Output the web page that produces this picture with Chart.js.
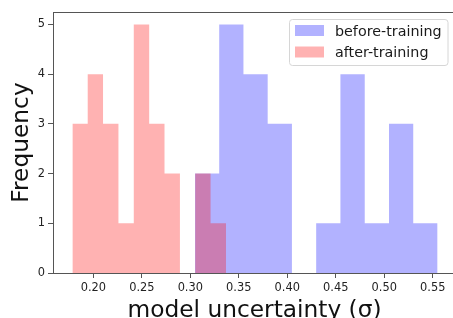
<!DOCTYPE html>
<html><head><meta charset="utf-8">
<script src="https://cdn.jsdelivr.net/npm/chart.js@4.4.0/dist/chart.umd.min.js"></script>
<style>
html,body{margin:0;padding:0;overflow:hidden;background:#fff;width:453px;height:318px}
#wrap{position:absolute;left:0;top:0;width:456px;height:330px}
</style></head><body>
<div id="wrap"><canvas id="c" width="456" height="330"></canvas></div>
<script>
// ---- data ----
const seriesNames = ['before-training', 'after-training'];
const beforeEdges = [0.3048, 0.3298, 0.3548, 0.3798, 0.4048, 0.4298, 0.4548, 0.4799, 0.5049, 0.5299, 0.5550];
const beforeCounts = [2, 5, 4, 3, 0, 1, 4, 1, 3, 1];
const afterEdges = [0.1784, 0.1942, 0.2100, 0.2259, 0.2417, 0.2576, 0.2734, 0.2893, 0.3051, 0.3209, 0.3368];
const afterCounts = [3, 4, 3, 1, 5, 3, 2, 0, 2, 1];
const xTickValues = [0.20, 0.25, 0.30, 0.35, 0.40, 0.45, 0.50, 0.55];
const yTickValues = [0, 1, 2, 3, 4, 5];
const xTitle = 'model uncertainty (σ)';
const yTitle = 'Frequency';

// histogram outline points: each count holds from its left edge to the next edge
function histPoints(edges, counts) {
  const pts = counts.map((c, i) => ({x: edges[i], y: c}));
  pts.push({x: edges[edges.length - 1], y: counts[counts.length - 1]});
  return pts;
}

const FONT = 'DejaVu Sans';
const AXIS = '#555';
const BLUE = 'rgba(0,0,255,0.3)';
const RED = 'rgba(255,0,0,0.3)';

const framePlugin = {
  id: 'frameAndLegend',
  afterDraw(chart) {
    const ctx = chart.ctx;
    const a = chart.chartArea;
    ctx.save();
    // top spine
    ctx.strokeStyle = AXIS;
    ctx.lineWidth = 1;
    const ty = Math.round(a.top) + 0.5;
    ctx.beginPath();
    ctx.moveTo(a.left, ty);
    ctx.lineTo(a.right, ty);
    ctx.stroke();
    // legend box
    const bx = 289.5, by = 19.5, bw = 158.5, bh = 46, r = 3;
    ctx.beginPath();
    ctx.moveTo(bx + r, by);
    ctx.arcTo(bx + bw, by, bx + bw, by + bh, r);
    ctx.arcTo(bx + bw, by + bh, bx, by + bh, r);
    ctx.arcTo(bx, by + bh, bx, by, r);
    ctx.arcTo(bx, by, bx + bw, by, r);
    ctx.closePath();
    ctx.fillStyle = 'rgba(255,255,255,0.8)';
    ctx.fill();
    ctx.strokeStyle = '#d6d6d6';
    ctx.stroke();
    ctx.font = '14.3px "' + FONT + '"';
    ctx.textBaseline = 'alphabetic';
    ctx.textAlign = 'left';
    chart.data.datasets.forEach((ds, i) => {
      const rowY = 25 + i * 21.5;
      ctx.fillStyle = ds.backgroundColor;
      ctx.fillRect(295, rowY, 29, 11);
      ctx.fillStyle = '#1a1a1a';
      ctx.fillText(ds.label, 335, rowY + 10.7);
    });
    ctx.restore();
  }
};

new Chart(document.getElementById('c'), {
  type: 'line',
  data: {
    datasets: [
      {
        label: seriesNames[0],
        data: histPoints(beforeEdges, beforeCounts),
        backgroundColor: BLUE,
        borderColor: 'transparent',
        borderWidth: 0,
        fill: 'origin',
        stepped: 'before',
        pointRadius: 0,
        order: 2
      },
      {
        label: seriesNames[1],
        data: histPoints(afterEdges, afterCounts),
        backgroundColor: RED,
        borderColor: 'transparent',
        borderWidth: 0,
        fill: 'origin',
        stepped: 'before',
        pointRadius: 0,
        order: 1
      }
    ]
  },
  options: {
    responsive: false,
    animation: false,
    devicePixelRatio: 1,
    layout: {padding: {top: 12, left: 0, right: 0, bottom: 0}},
    plugins: {legend: {display: false}, tooltip: {enabled: false}},
    scales: {
      x: {
        type: 'linear',
        min: 0.1584,
        max: 0.574,
        afterFit(s) { s.height = 57; },
        afterBuildTicks(s) { s.ticks = xTickValues.map(v => ({value: v})); },
        ticks: {
          autoSkip: false, maxRotation: 0, padding: 3, color: '#222',
          font: {family: FONT, size: 11.4},
          callback: v => Number(v).toFixed(2)
        },
        grid: {display: true, drawOnChartArea: false, drawTicks: true, tickLength: 5, color: AXIS},
        border: {display: true, color: AXIS, width: 1},
        title: {display: true, text: xTitle, color: '#111', font: {family: FONT, size: 23.3, lineHeight: 1}, padding: {top: 0, bottom: 7}}
      },
      y: {
        type: 'linear',
        min: 0,
        max: 5.25,
        afterFit(s) { s.width = 53; },
        afterBuildTicks(s) { s.ticks = yTickValues.map(v => ({value: v})); },
        ticks: {padding: 3, color: '#222', font: {family: FONT, size: 11.4}},
        grid: {display: true, drawOnChartArea: false, drawTicks: true, tickLength: 5, color: AXIS},
        border: {display: true, color: AXIS, width: 1},
        title: {display: true, text: yTitle, color: '#111', font: {family: FONT, size: 23.3, lineHeight: 1}, padding: {top: 10, bottom: 0}}
      }
    }
  },
  plugins: [framePlugin]
});
</script>
</body></html>
